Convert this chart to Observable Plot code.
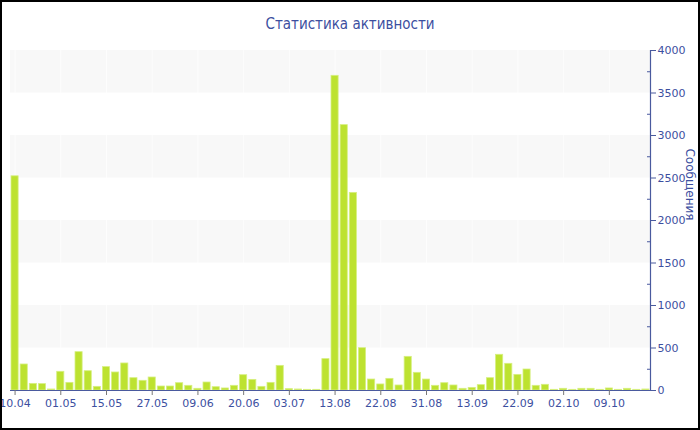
<!DOCTYPE html>
<html>
<head>
<meta charset="utf-8">
<script src="https://cdn.jsdelivr.net/npm/d3@7"></script>
<script src="https://cdn.jsdelivr.net/npm/@observablehq/plot@0.6"></script>
<style>
  html, body { margin: 0; padding: 0; background: #fff; }
  #wrap { position: relative; width: 700px; height: 430px; overflow: hidden; }
  #title { position: absolute; top: 15px; left: 0; width: 700px; text-align: center;
           font: 15px "DejaVu Sans Condensed", "DejaVu Sans", sans-serif; color: #3c4f9f; }
  #border { position: absolute; left: 0; top: 0; width: 700px; height: 430px;
            box-sizing: border-box; border: 2px solid #000; pointer-events: none; }
  svg { position: absolute; left: 0; top: 0; }
</style>
</head>
<body>
<div id="wrap">
  <div id="chart"></div>
  <div id="title">Статистика активности</div>
  <div id="border"></div>
</div>
<script>
const title = "Статистика активности";
const yLabel = "Сообщения";
const values = [
  2520, 306, 78, 75, 12, 220, 90, 451, 227, 43,
  275, 212, 318, 145, 114, 153, 47, 47, 86, 55,
  20, 94, 39, 24, 55, 180, 125, 43, 90, 290,
  16, 12, 8, 8, 369, 3702, 3122, 2325, 498, 129,
  71, 137, 59, 396, 208, 129, 55, 86, 59, 20,
  31, 63, 145, 420, 314, 184, 247, 55, 67, 8,
  20, 8, 20, 20, 8, 24, 8, 20, 8, 12
];
const tickLabels = ["10.04","01.05","15.05","27.05","09.06","20.06","03.07","13.08","22.08","31.08","13.09","22.09","02.10","09.10"];
const tickEvery = 5;
const yTicks = [0, 500, 1000, 1500, 2000, 2500, 3000, 3500, 4000];
const yMinor = [250, 750, 1250, 1750, 2250, 2750, 3250, 3750];
const bandStarts = [500, 1500, 2500, 3500];

const data = values.map((v, i) => ({i, v}));
const bands = bandStarts.map(s => ({y1: s, y2: s + 500}));
const tickIdx = tickLabels.map((_, k) => k * tickEvery);

const axisColor = "#4a5a9e";
const textColor = "#3c4f9f";

const chart = Plot.plot({
  width: 700,
  height: 430,
  marginLeft: 10,
  marginRight: 50,
  marginTop: 50,
  marginBottom: 40,
  style: {fontFamily: "'DejaVu Sans', sans-serif", fontSize: "11px", background: "transparent", overflow: "visible"},
  x: {type: "band", domain: data.map(d => d.i), round: false, paddingInner: 0.22, paddingOuter: 0.11, label: null, axis: null},
  y: {domain: [0, 4000], label: null, axis: null},
  marks: [
    Plot.rect(bands, {y1: "y1", y2: "y2", fill: "#f8f8f8"}),
    Plot.gridX(tickIdx, {stroke: "#ffffff", strokeOpacity: 0.7}),
    Plot.barY(data, {x: "i", y: "v", fill: "#bde230", stroke: "#d6ef80", strokeWidth: 0.8, inset: 0}),
    Plot.ruleY([0], {stroke: axisColor, strokeWidth: 1.2}),
    Plot.axisX(tickIdx, {tickFormat: i => tickLabels[i / tickEvery], tickSize: 5, tickPadding: 4, stroke: "#777", color: textColor, fontSize: 11, label: null}),
    Plot.frame({anchor: "right", stroke: axisColor, strokeWidth: 1.2}),
    Plot.axisY(yTicks, {anchor: "right", tickSize: 5, tickPadding: 2, tickFormat: d => String(d), stroke: axisColor, color: textColor, fontSize: 11, label: null}),
    Plot.axisY(yMinor, {anchor: "right", tickSize: -4, tickFormat: () => "", stroke: axisColor, label: null}),
    Plot.text([yLabel], {frameAnchor: "right", rotate: 90, dx: 39, fill: textColor, fontSize: 12})
  ]
});
document.getElementById("chart").appendChild(chart);
</script>
</body>
</html>
